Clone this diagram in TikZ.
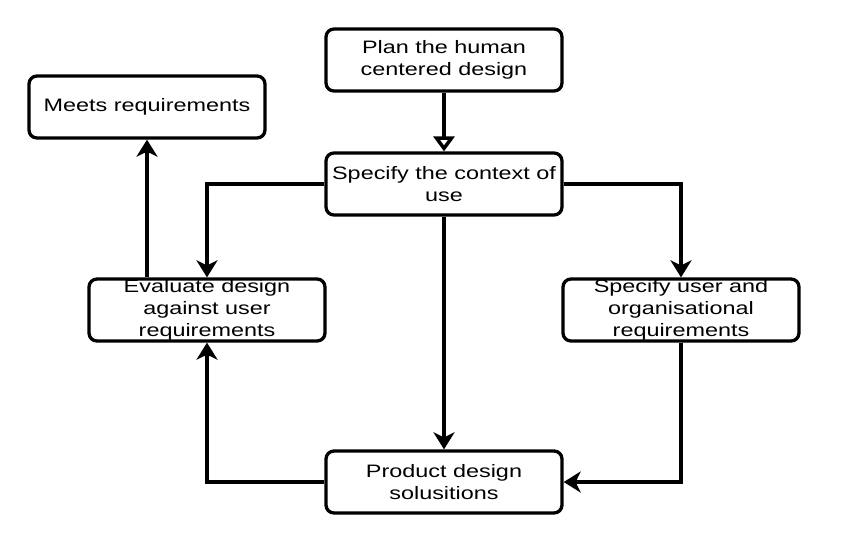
\documentclass[tikz,border=0pt]{standalone}
\usepackage{fontspec}
\setmainfont{Liberation Sans}[FakeStretch=1.3]
\usetikzlibrary{arrows.meta}

\begin{document}
\begin{tikzpicture}[
        x=1pt, y=-1pt,
        box/.style={draw, line width=3.3pt, rounded corners=8pt, align=center,
          minimum width=236pt, minimum height=62pt, inner sep=0pt,
          font=\fontsize{18}{22}\selectfont},
        arr/.style={line width=3.5pt, -{Stealth[length=17pt, width=21pt, inset=5pt]}},
        openarr/.style={line width=3.5pt, -{Triangle[open, length=15pt, width=21pt, fill=white]}}
      ]
      \useasboundingbox (0,0) rectangle (842,542);
      % boxes
      \node[box] (plan) at (444,60) {Plan the human\\centered design};
      \node[box] (context) at (444,184) {Specify the context of\\use};
      \node[box] (meets) at (147,107) {Meets requirements};
      \node[box] (evaluate) at (207,310) {Evaluate design\\against user\\requirements};
      \node[box] (user) at (681,310) {Specify user and\\organisational\\requirements};
      \node[box] (product) at (444,482) {Product design\\solusitions};
      % connectors
      \draw[openarr] (plan) -- (context);
      \draw[arr] (context.west) -| (evaluate.north);
      \draw[arr] (context.east) -| (user.north);
      \draw[arr] (context) -- (product);
      \draw[arr] (user.south) |- (product.east);
      \draw[arr] (product.west) -| (evaluate.south);
      \draw[arr] (meets.south |- evaluate.north) -- (meets.south);
\end{tikzpicture}
\end{document}
